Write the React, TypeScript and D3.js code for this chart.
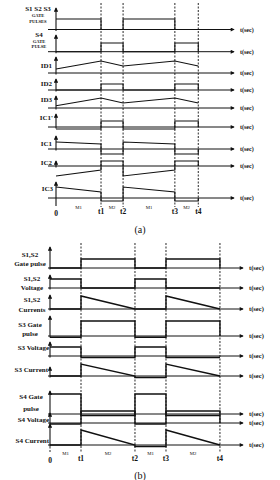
import * as d3 from 'd3';

type Seg = [number, number];
type Row = { label: string[]; levels: Seg[]; tail: number | null };

const tickLabels = ['0', 't1', 't2', 't3', 't4'];
const modeLabels = ['M1', 'M2', 'M1', 'M2'];

// switching instants (arbitrary time units)
const timesA = [0, 1, 1.49, 2.64, 3.16];
const timesB = [0, 1, 2.74, 3.74, 5.48];

// each waveform: [level at start, level at end] for the 4 intervals
const gateS123A: Seg[] = [[1.05, 1.05], [0, 0], [1.05, 1.05], [0, 0]];
const gateS4A: Seg[] = [[0, 0], [0.87, 0.87], [0, 0], [0.87, 0.87]];
const id1A: Seg[] = [[0.4, 1.2], [1.2, 0.7], [0.7, 1.2], [1.2, 0.7]];
const id2A: Seg[] = [[0, 0], [0.6, 0.6], [0, 0], [0.6, 0.6]];
const id3A: Seg[] = [[0.23, 1.0], [1.0, 0.5], [0.5, 1.0], [1.0, 0.5]];
const ic1pA: Seg[] = [[-0.2, -0.2], [0.6, 0.6], [-0.2, -0.2], [0.6, 0.6]];
const ic1A: Seg[] = [[0.7, 0.5], [-0.5, -0.5], [0.7, 0.5], [-0.5, -0.5]];
const ic2A: Seg[] = [[-1.0, -0.4], [0.5, 0.5], [-1.0, -0.4], [0.5, 0.5]];
const ic3A: Seg[] = [[1.1, 0.6], [-0.3, -0.3], [1.1, 0.6], [-0.3, -0.3]];

const gate12B: Seg[] = [[0, 0], [0.9, 0.9], [0, 0], [0.9, 0.9]];
const volt12B: Seg[] = [[0.9, 0.9], [0, 0], [0.9, 0.9], [0, 0]];
const curr12B: Seg[] = [[0, 0], [1.3, 0], [0, 0], [1.3, 0]];
const gate3B: Seg[] = [[-0.12, -0.12], [1.5, 1.5], [-0.12, -0.12], [1.5, 1.5]];
const volt3B: Seg[] = [[0.9, 0.9], [-0.15, -0.15], [0.9, 0.9], [-0.15, -0.15]];
const curr3B: Seg[] = [[0, 0], [1.2, 0], [-0.15, -0.15], [1.2, 0]];
const gate4B: Seg[] = [[2.0, 2.0], [-0.15, -0.15], [2.0, 2.0], [-0.15, -0.15]];
const volt4B: Seg[] = [[-0.1, -0.1], [1.2, 1.2], [-0.1, -0.1], [1.2, 1.2]];
const curr4B: Seg[] = [[0, 0], [1.5, 0], [-0.15, -0.15], [1.5, 0]];

const rowsA: Row[] = [
  { label: ['S1 S2 S3', 'GATE', 'PULSES'], levels: gateS123A, tail: null },
  { label: ['S4', 'GATE', 'PULSE'], levels: gateS4A, tail: 0 },
  { label: ['ID1'], levels: id1A, tail: null },
  { label: ['ID2'], levels: id2A, tail: 0 },
  { label: ['ID3'], levels: id3A, tail: null },
  { label: ["IC1'"], levels: ic1pA, tail: 0 },
  { label: ['IC1'], levels: ic1A, tail: 0 },
  { label: ['IC2'], levels: ic2A, tail: 0 },
  { label: ['IC3'], levels: ic3A, tail: 0 },
];

const rowsB: Row[] = [
  { label: ['S1,S2', 'Gate pulse'], levels: gate12B, tail: 0 },
  { label: ['S1,S2', 'Voltage'], levels: volt12B, tail: null },
  { label: ['S1,S2', 'Currents'], levels: curr12B, tail: null },
  { label: ['S3 Gate', 'pulse'], levels: gate3B, tail: 0 },
  { label: ['S3 Voltage'], levels: volt3B, tail: null },
  { label: ['S3 Current'], levels: curr3B, tail: null },
  { label: ['S4 Gate', 'pulse'], levels: gate4B, tail: null },
  { label: ['S4 Voltage'], levels: volt4B, tail: 0 },
  { label: ['S4 Current'], levels: curr4B, tail: null },
];

// layout (pixels)
const layoutA = {
  x0: 56, x1: 237, tMax: 4.02, unit: 10, lead: 8,
  base: [29.5, 51.7, 73, 90, 108, 127, 149, 166, 198],
  top: [4, 31, 53, 75, 92, 110, 132, 157, 178],
  labelY: [[10.5, 17, 22.5], [36.5, 42.5, 48], [67.5], [85.5], [102], [120], [145.5], [165], [190.5]],
  labelX: [38, 39, 52, 52, 52, 53, 52, 52, 53],
  axisBottom: 206, dotBottom: 206, dashTop: 3, dashBottom: 207,
  tickY: 214, modeY: 209, captionY: 233,
};
const layoutB = {
  x0: 50, x1: 246, tMax: 6.32, unit: 10, lead: 2,
  base: [268, 288, 309, 336, 356, 376, 414, 423, 445],
  top: [243, 271, 291, 312, 338, 363, 387, 409, 420],
  labelY: [[257, 266], [280.5, 290], [301.5, 311.5], [327, 336], [349.5], [372], [399, 411], [421.5], [443]],
  labelX: [30, 32, 32, 30, 49, 48, 31, 49, 49],
  axisBottom: 446.5, dotBottom: 452, dashTop: 243, dashBottom: 452,
  tickY: 461, modeY: 455, captionY: 479,
};

const FONT = '"Liberation Serif", "DejaVu Serif", serif';
const INK = '#111';

function wavePoints(levels: Seg[], times: number[], tail: number | null): [number, number][] {
  const pts: [number, number][] = [];
  levels.forEach((s, i) => {
    pts.push([times[i], s[0]]);
    pts.push([times[i + 1], s[1]]);
  });
  if (tail !== null) pts.push([times[times.length - 1], tail]);
  return pts;
}

function Panel({ rows, times, L, id, small, caption }: any) {
  const x = d3.scaleLinear().domain([0, L.tMax]).range([L.x0, L.x1]);
  const tsecX = L.x1 + 3;
  return (
    <g>
      {/* dashed time markers */}
      {times.slice(1).map((t: number, i: number) => (
        <line key={'d' + i} x1={x(t)} x2={x(t)} y1={L.dashTop} y2={L.dashBottom}
          stroke={INK} strokeWidth={0.9} strokeDasharray="2,1.5" />
      ))}
      {L.dotBottom > L.axisBottom && (
        <line x1={L.x0} x2={L.x0} y1={L.axisBottom} y2={L.dotBottom}
          stroke={INK} strokeWidth={0.9} strokeDasharray="2,1.5" />
      )}
      {rows.map((r: Row, i: number) => {
        const y = d3.scaleLinear().domain([0, 1]).range([L.base[i], L.base[i] - L.unit]);
        const line = d3.line<[number, number]>().x(d => x(d[0])).y(d => y(d[1]));
        const pts = wavePoints(r.levels, times, r.tail);
        const single = r.label.length === 1;
        return (
          <g key={i}>
            <line x1={L.x0} x2={L.x0} y1={i === rows.length - 1 ? L.axisBottom : L.base[i] + 1.5} y2={L.top[i] + 4}
              stroke={INK} strokeWidth={1.1} markerEnd={`url(#${id}up)`} />
            <line x1={L.x0 - L.lead} x2={L.x1 - 3} y1={L.base[i]} y2={L.base[i]}
              stroke={INK} strokeWidth={1} markerEnd={`url(#${id}rt)`} />
            <text x={tsecX} y={L.base[i] + 2} fontFamily={FONT} fontWeight="bold" fontSize={small ? 6 : 6.5} fill={INK}>t(sec)</text>
            <path d={line(pts) || ''} fill="none" stroke={INK} strokeWidth={small ? 1.1 : 1.4} />
            {r.label.map((s, k) => (
              <text key={k} x={L.labelX[i]} y={L.labelY[i][k]}
                textAnchor={single ? 'end' : 'middle'}
                fontFamily={FONT} fontWeight="bold"
                fontSize={small && k > 0 ? 4.6 : 7}
                fill={INK}>{s}</text>
            ))}
          </g>
        );
      })}
      {times.map((t: number, i: number) => (
        <text key={'t' + i} x={x(t)} y={L.tickY + (i === 0 ? 2 : 0)} textAnchor="middle"
          fontFamily={FONT} fontWeight="bold" fontSize={7.5} fill={INK}>{tickLabels[i]}</text>
      ))}
      {modeLabels.map((m, i) => (
        <text key={'m' + i} x={x((times[i] + times[i + 1]) / 2)} y={L.modeY} textAnchor="middle"
          fontFamily={FONT} fontSize={4.8} fill={INK}>{m}</text>
      ))}
      <text x={140} y={L.captionY} textAnchor="middle" fontFamily={FONT} fontSize={10} fill={INK}>{caption}</text>
    </g>
  );
}

export default function App() {
  const markers = ['a', 'b'].map(id => (
    <g key={id}>
      <marker id={id + 'up'} viewBox="0 0 6 6" refX={5} refY={3} markerWidth={5} markerHeight={4.5}
        markerUnits="userSpaceOnUse" orient="auto">
        <path d="M0,0 L6,3 L0,6 Z" fill={INK} />
      </marker>
      <marker id={id + 'rt'} viewBox="0 0 6 6" refX={5} refY={3} markerWidth={6} markerHeight={4}
        markerUnits="userSpaceOnUse" orient="auto">
        <path d="M0,0 L6,3 L0,6 Z" fill={INK} />
      </marker>
    </g>
  ));
  return (
    <svg width={280} height={480} style={{ position: 'absolute', left: 0, top: 0, background: '#fff' }}>
      <defs>{markers}</defs>
      <rect width={280} height={480} fill="#fff" />
      <Panel rows={rowsA} times={timesA} L={layoutA} id="a" small caption="(a)" />
      <Panel rows={rowsB} times={timesB} L={layoutB} id="b" caption="(b)" />
    </svg>
  );
}
